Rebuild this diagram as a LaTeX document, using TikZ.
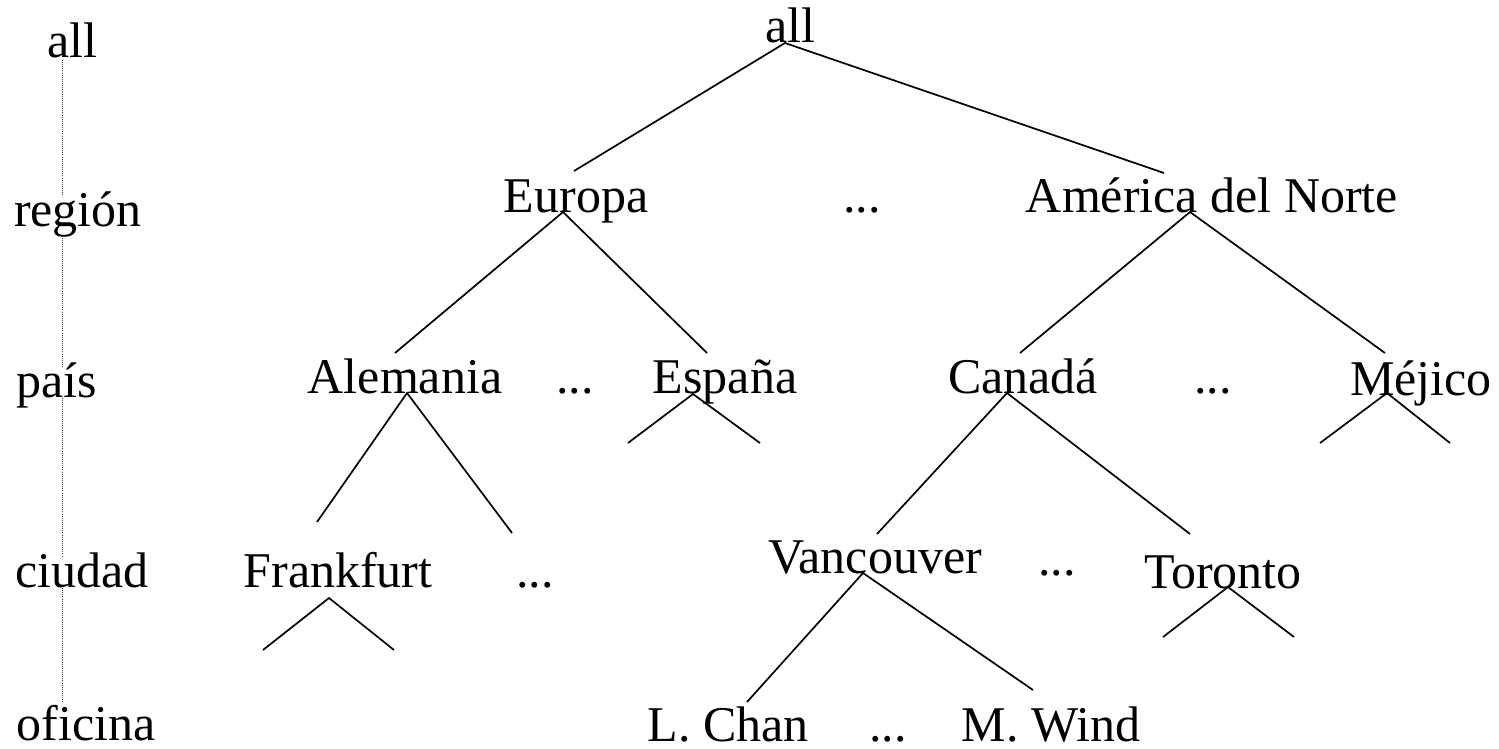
\documentclass[tikz,border=0pt]{standalone}
\usepackage{fontspec}
\setmainfont{Liberation Serif}
\begin{document}
\begin{tikzpicture}[x=1pt,y=-1pt,
  lbl/.style={anchor=base,inner sep=0pt,outer sep=0pt,font=\fontsize{50}{60}\selectfont},
  edge/.style={line width=1.7pt,line cap=butt},
  lvl/.style={line width=0.9pt,dash pattern=on 0.9pt off 1.2pt,black!80}]
\useasboundingbox (0,0) rectangle (1499,749);
% level labels
\node[lbl] (lall) at (72,58) {all};
\node[lbl] (lreg) at (78,226) {región};
\node[lbl] (lpais) at (57,397) {país};
\node[lbl] (lciu) at (82,587) {ciudad};
\node[lbl,text depth=0pt] (lofi) at (86,740) {oficina};
\coordinate (d1a) at (62,60);  \coordinate (d1b) at (62,196);
\coordinate (d2a) at (62,238); \coordinate (d2b) at (62,368);
\coordinate (d3a) at (62,398); \coordinate (d3b) at (62,557);
\coordinate (d4a) at (62,588); \coordinate (d4b) at (62,702);
\draw[lvl] (d1a) -- (d1b);
\draw[lvl] (d2a) -- (d2b);
\draw[lvl] (d3a) -- (d3b);
\draw[lvl] (d4a) -- (d4b);
% tree nodes
\node[lbl] (all) at (790,43) {all};
\node[lbl] (eur) at (576,212) {Europa};
\node[lbl] (dt1) at (862,212) {...};
\node[lbl] (ame) at (1212,212) {América del Norte};
\node[lbl] (ale) at (405,393) {Alemania};
\node[lbl] (dt2) at (575,393) {...};
\node[lbl] (esp) at (725,393) {España};
\node[lbl] (can) at (1023,393) {Canadá};
\node[lbl] (dt3) at (1213,393) {...};
\node[lbl] (mej) at (1421,395) {Méjico};
\node[lbl] (fra) at (338,587) {Frankfurt};
\node[lbl] (dt4) at (535,587) {...};
\node[lbl] (van) at (875,573) {Vancouver};
\node[lbl] (dt5) at (1057,575) {...};
\node[lbl] (tor) at (1223,588) {Toronto};
\node[lbl,text depth=0pt] (lch) at (728,741) {L. Chan};
\node[lbl,text depth=0pt] (dt6) at (888,741) {...};
\node[lbl,text depth=0pt] (mwi) at (1051,741) {M. Wind};
% connector points
\coordinate (allB) at (785,43);
\coordinate (eurT) at (574,171);
\coordinate (ameT) at (1164,173);
\coordinate (eurB) at (563,212);
\coordinate (aleT) at (395,353);
\coordinate (espT) at (707,353);
\coordinate (ameB) at (1190,212);
\coordinate (canT) at (1020,353);
\coordinate (mejT) at (1385,353);
\coordinate (aleB) at (407,393);
\coordinate (fraT) at (317,522);
\coordinate (ale2) at (512,533);
\coordinate (espB) at (693,394);
\coordinate (esp1) at (628,443);
\coordinate (esp2) at (760,443);
\coordinate (canB) at (1007,393);
\coordinate (vanT) at (877,534);
\coordinate (torT) at (1190,534);
\coordinate (mejB) at (1387,393);
\coordinate (mej1) at (1320,443);
\coordinate (mej2) at (1450,443);
\coordinate (fraB) at (329,598);
\coordinate (fra1) at (263,650);
\coordinate (fra2) at (394,650);
\coordinate (vanB) at (863,573);
\coordinate (lchT) at (747,702);
\coordinate (mwiT) at (1033,690);
\coordinate (torB) at (1228,587);
\coordinate (tor1) at (1163,637);
\coordinate (tor2) at (1294,637);
% connectors
\draw[edge] (eurT) -- (allB) -- (ameT);
\draw[edge] (aleT) -- (eurB) -- (espT);
\draw[edge] (canT) -- (ameB) -- (mejT);
\draw[edge] (fraT) -- (aleB) -- (ale2);
\draw[edge] (esp1) -- (espB) -- (esp2);
\draw[edge] (vanT) -- (canB) -- (torT);
\draw[edge] (mej1) -- (mejB) -- (mej2);
\draw[edge] (fra1) -- (fraB) -- (fra2);
\draw[edge] (lchT) -- (vanB) -- (mwiT);
\draw[edge] (tor1) -- (torB) -- (tor2);
\end{tikzpicture}
\end{document}
